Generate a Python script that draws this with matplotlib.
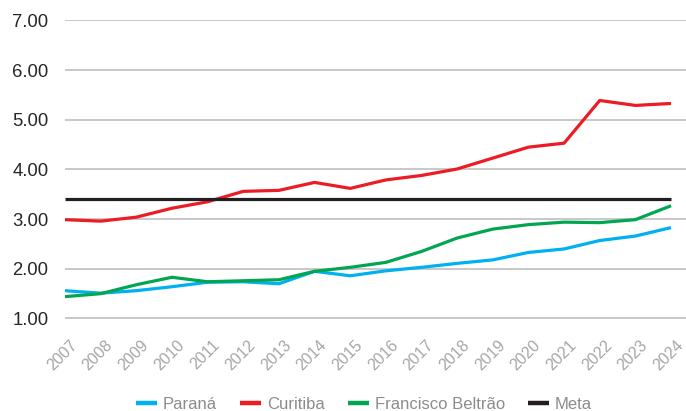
import matplotlib
matplotlib.use("Agg")
import matplotlib.pyplot as plt
import matplotlib.transforms as mtransforms

years = [str(y) for y in range(2007, 2025)]
parana = [1.56, 1.51, 1.56, 1.64, 1.73, 1.74, 1.70, 1.95, 1.86, 1.96, 2.03, 2.11, 2.18, 2.33, 2.40, 2.57, 2.66, 2.83]
curitiba = [2.99, 2.96, 3.04, 3.22, 3.35, 3.56, 3.58, 3.74, 3.62, 3.79, 3.88, 4.01, 4.23, 4.45, 4.53, 5.39, 5.29, 5.33]
beltrao = [1.44, 1.50, 1.68, 1.83, 1.74, 1.76, 1.78, 1.95, 2.03, 2.13, 2.35, 2.62, 2.80, 2.89, 2.94, 2.93, 2.99, 3.27]
meta = [3.40] * len(years)
yticks = [1, 2, 3, 4, 5, 6, 7]

plt.rcParams['font.family'] = ['Liberation Sans', 'DejaVu Sans']

fig = plt.figure(figsize=(6.86, 4.11), dpi=100)
ax = fig.add_axes([65/686, 1 - 318.5/411, 621/686, 298/411])

x = list(range(len(years)))
lw = 2.3
ax.plot(x, parana, color='#00b0f0', lw=lw, label='Paraná', solid_capstyle='butt', zorder=3)
ax.plot(x, curitiba, color='#ed1c24', lw=lw, label='Curitiba', solid_capstyle='butt', zorder=3)
ax.plot(x, beltrao, color='#00a650', lw=lw, label='Francisco Beltrão', solid_capstyle='butt', zorder=3)
ax.plot(x, meta, color='#231f20', lw=lw, label='Meta', solid_capstyle='butt', zorder=3)

ax.set_xlim(0, 17.42)
ax.set_ylim(1, 7)
ax.tick_params(axis='x', length=0, pad=0)
ax.tick_params(axis='y', length=0, pad=12)
ax.set_yticks(yticks)
ax.set_yticklabels([f"{v:.2f}" for v in yticks], fontsize=13.3, color='#262626')
ax.set_xticks(x)
ax.set_xticklabels(years, rotation=45, ha='right', va='center', rotation_mode='anchor',
                   fontsize=11.5, color='#a6a6a6')
offset = mtransforms.ScaledTranslation(10/100, -24.5/100, fig.dpi_scale_trans)
for lab in ax.get_xticklabels():
    lab.set_transform(lab.get_transform() + offset)
ax.grid(axis='y', color='#c8c8c8', lw=1.4, zorder=1)
ax.grid(axis='x', visible=False)
for s in ax.spines.values():
    s.set_visible(False)
ax.set_axisbelow(True)

leg = fig.legend(loc='center', bbox_to_anchor=(364/686, 1 - 404/411), ncol=4, frameon=False,
                 fontsize=12, handlelength=1.25, handletextpad=0.35, columnspacing=1.4,
                 borderaxespad=0, borderpad=0)
for t in leg.get_texts():
    t.set_color('#8c8c8c')
for h in leg.get_lines():
    h.set_linewidth(3.2)

fig.savefig('out.png', dpi=100)
